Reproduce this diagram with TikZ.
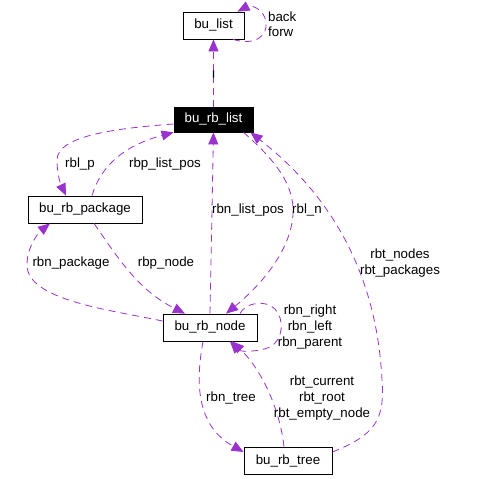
\documentclass[tikz,border=0pt]{standalone}
\usepackage{fontspec}
\setmainfont{Liberation Sans}
\usetikzlibrary{arrows.meta,calc}
\definecolor{edgepurple}{RGB}{154,50,205}
\begin{document}
\begin{tikzpicture}[x=1pt,y=-1pt,
  every node/.style={font=\fontsize{13.3}{16}\selectfont},
  box/.style={draw=black,line width=0.8pt,inner sep=0pt,minimum height=27pt},
  usage/.style={draw=edgepurple,line width=0.8pt,dash pattern=on 7pt off 5pt,
     -{Triangle[length=12pt,width=10pt,fill=edgepurple]}},
  lbl/.style={inner sep=0pt,align=center}]
\useasboundingbox (0,0) rectangle (488,479);
% nodes
\node[box,minimum width=61pt] (list) at (213.5,25.5) {bu\_list};
\node[box,fill=black,text=white,minimum width=79pt,minimum height=25pt] (rbl) at (213.5,119.5) {bu\_rb\_list};
\node[box,minimum width=114pt] (pkg) at (85,209.5) {bu\_rb\_package};
\node[box,minimum width=94pt] (rbn) at (210,327.5) {bu\_rb\_node};
\node[box,minimum width=88pt] (tree) at (288,460.5) {bu\_rb\_tree};
% edges
\draw[usage] (rbl.north) -- (list.south);
\draw[black,line width=1.3pt] ($(list.south)!0.46!(rbl.north)$) -- ($(list.south)!0.57!(rbl.north)$);
\draw[usage] ([xshift=19.5pt]list.south) .. controls (255,46) and (268,36) .. (266,22)
   .. controls (264,8) and (250,5) .. ([xshift=24pt]list.north);
\node[lbl,anchor=west] (lback) at (268,17) {back};
\node[lbl,anchor=west] (lforw) at (268,32) {forw};
% rbl_p
\draw[usage] ([yshift=-4.5pt]rbl.west) .. controls (120,128) and (57,135) .. (57,160)
   .. controls (57,175) and (61,185) .. ([xshift=-19pt]pkg.north);
\node[lbl] (lrblp) at (80,164) {rbl\_p};
% rbp_list_pos
\draw[usage] ([xshift=7pt]pkg.north) .. controls (100,168) and (122,146) .. (rbl.south west);
\node[lbl] (lrbplp) at (165,164) {rbp\_list\_pos};
% rbn_package
\draw[usage] ([yshift=6.5pt]rbn.west) .. controls (110,310) and (27,300) .. (27,265)
   .. controls (27,247) and (38,233) .. ([xshift=-35pt]pkg.south);
\node[lbl] (lrbnpkg) at (71,263) {rbn\_package};
% rbp_node
\draw[usage] ([xshift=9pt]pkg.south) .. controls (118,258) and (138,290) .. ([xshift=-25pt]rbn.north);
\node[lbl] (lrbpnode) at (166,263) {rbp\_node};
% rbn_list_pos
\draw[usage] (rbn.north) -- (rbl.south);
\node[lbl] (lrbnlp) at (248,210) {rbn\_list\_pos};
% rbl_n
\draw[usage] ([xshift=30pt]rbl.south) .. controls (275,160) and (295,185) .. (293,215)
   .. controls (290,255) and (255,290) .. ([xshift=16pt]rbn.north);
\node[lbl] (lrbln) at (307,210) {rbl\_n};
% self loop on node
\draw[usage] ([xshift=30pt]rbn.north) .. controls (245,303) and (265,299) .. (275,309)
   .. controls (285,320) and (283,340) .. (270,347)
   .. controls (259,352) and (240,352) .. ([xshift=20pt]rbn.south);
\node[lbl] (lself) at (310,327) {rbn\_right\\rbn\_left\\rbn\_parent};
% rbn_tree
\draw[usage] ([xshift=-7pt]rbn.south) .. controls (196,380) and (195,425) .. ([yshift=8.5pt]tree.west);
\node[lbl] (lrbntree) at (231,398) {rbn\_tree};
% rbt_current etc
\draw[usage] ([xshift=-4pt]tree.north) .. controls (280,410) and (262,370) .. ([xshift=22pt]rbn.south);
\node[lbl] (lrbt) at (322,398) {rbt\_current\\rbt\_root\\rbt\_empty\_node};
% rbt_nodes
\draw[usage] ([yshift=8.5pt]tree.east) .. controls (375,435) and (385,420) .. (382,380)
   .. controls (378,300) and (350,210) .. ([xshift=37pt]rbl.south);
\node[lbl] (lrbtn) at (400,263) {rbt\_nodes\\rbt\_packages};
\end{tikzpicture}
\end{document}
